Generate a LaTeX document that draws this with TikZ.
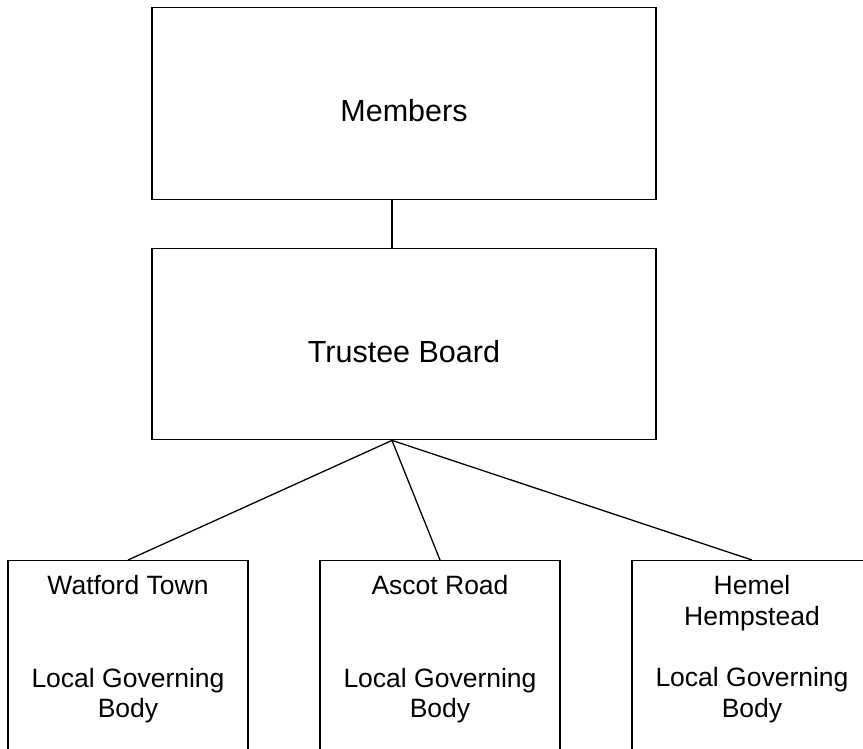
\documentclass[tikz,border=0pt]{standalone}
\usepackage{fontspec}
\setmainfont{Liberation Sans}
\begin{document}
\begin{tikzpicture}[x=1pt,y=-1pt,line width=1.3pt,
  bigbox/.style={draw,minimum width=504pt,minimum height=191.5pt,inner sep=0pt,
    font=\fontsize{30.5}{36}\selectfont,text height=37pt,text depth=0pt},
  unitbox/.style={draw,minimum width=240pt,minimum height=260pt,inner sep=0pt,anchor=north},
  unittext/.style={anchor=north,inner sep=0pt,align=center,
    font=\fontsize{26.5}{30.5}\selectfont},
  link/.style={draw,line width=1.3pt}]
\useasboundingbox (0,0) rectangle (863,749);
\clip (0,0) rectangle (863,749);
\node[bigbox] (members) at (404,103.5) {Members};
\node[bigbox] (trustee) at (404,344) {Trustee Board};
\node[unitbox] (wt) at (128,560) {};
\node[unitbox] (ar) at (440,560) {};
\node[unitbox] (hh) at (752,560) {};
\node[unittext] (wtt) at ([yshift=-15pt]wt.north) {Watford Town\\[62pt]Local Governing\\Body};
\node[unittext] (art) at ([yshift=-15pt]ar.north) {Ascot Road\\[62pt]Local Governing\\Body};
\node[unittext] (hht) at ([yshift=-15pt]hh.north) {Hemel\\Hempstead\\[31pt]Local Governing\\Body};
\coordinate (hub) at ([xshift=-12pt]trustee.south);
\path[link] (members.south -| hub) -- (trustee.north -| hub);
\path[link] (hub) -- (wt.north);
\path[link] (hub) -- (ar.north);
\path[link] (hub) -- (hh.north);
\end{tikzpicture}
\end{document}
